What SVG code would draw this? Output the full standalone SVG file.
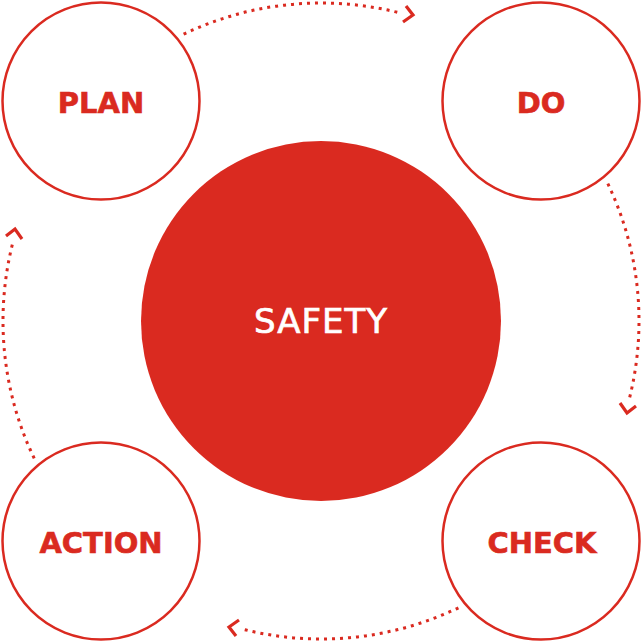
<svg xmlns="http://www.w3.org/2000/svg" width="644" height="642" viewBox="0 0 644 642">
  <defs>
    <style>
      .ring { fill: #ffffff; stroke: #da2a20; stroke-width: 2.5; }
      .core { fill: #da2a20; }
      .label { font-family: "DejaVu Sans", "Liberation Sans", sans-serif; font-weight: bold; font-size: 29px; fill: #da2a20; stroke: #da2a20; stroke-width: 0.6; text-anchor: middle; }
      .center { font-family: "DejaVu Sans", "Liberation Sans", sans-serif; font-size: 34px; fill: #ffffff; stroke: #ffffff; stroke-width: 0.7; text-anchor: middle; letter-spacing: 1px; }
      .dots { fill: none; stroke: #da2a20; stroke-width: 3; stroke-dasharray: 3 5; }
      .head { fill: none; stroke: #da2a20; stroke-width: 3.2; stroke-linejoin: miter; }
    </style>
  </defs>
  <rect width="644" height="642" fill="#ffffff"/>
  <g id="connectors">
    <g id="plan-to-do">
      <path class="dots" d="M 183.6 34.2 A 318 318 0 0 1 402 13.5"/>
      <polyline class="head" points="406,6 413,15 403,22"/>
    </g>
    <g id="do-to-check" transform="rotate(90 321 321)">
      <path class="dots" d="M 183.6 34.2 A 318 318 0 0 1 402 13.5"/>
      <polyline class="head" points="406,6 413,15 403,22"/>
    </g>
    <g id="check-to-action" transform="rotate(180 321 321)">
      <path class="dots" d="M 183.6 34.2 A 318 318 0 0 1 402 13.5"/>
      <polyline class="head" points="406,6 413,15 403,22"/>
    </g>
    <g id="action-to-plan" transform="rotate(270 321 321)">
      <path class="dots" d="M 183.6 34.2 A 318 318 0 0 1 402 13.5"/>
      <polyline class="head" points="406,6 413,15 403,22"/>
    </g>
  </g>
  <g id="safety">
    <circle class="core" cx="321" cy="321" r="180"/>
    <text class="center" x="321" y="333">SAFETY</text>
  </g>
  <g id="plan">
    <circle class="ring" cx="101" cy="101" r="98.5"/>
    <text class="label" x="101" y="113">PLAN</text>
  </g>
  <g id="do">
    <circle class="ring" cx="541" cy="101" r="98.5"/>
    <text class="label" x="541" y="113">DO</text>
  </g>
  <g id="check">
    <circle class="ring" cx="541" cy="541" r="98.5"/>
    <text class="label" x="542" y="553">CHECK</text>
  </g>
  <g id="action">
    <circle class="ring" cx="101" cy="541" r="98.5"/>
    <text class="label" x="101" y="553">ACTION</text>
  </g>
</svg>
